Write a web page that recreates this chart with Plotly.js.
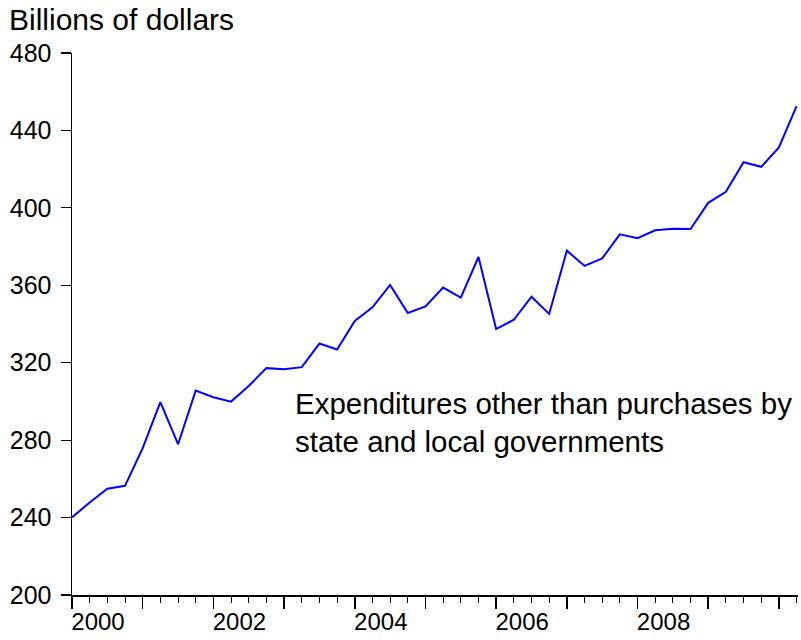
<!DOCTYPE html>
<html>
<head>
<meta charset="utf-8">
<script src="https://cdn.plot.ly/plotly-3.0.1.min.js"></script>
<style>
  html, body { margin: 0; padding: 0; background: #fff; }
  #chart { width: 801px; height: 640px; }
</style>
</head>
<body>
<div id="chart"></div>
<script>
// Quarterly periods, 2000Q1 .. 2010Q2
const quarters = [
  "2000Q1","2000Q2","2000Q3","2000Q4",
  "2001Q1","2001Q2","2001Q3","2001Q4",
  "2002Q1","2002Q2","2002Q3","2002Q4",
  "2003Q1","2003Q2","2003Q3","2003Q4",
  "2004Q1","2004Q2","2004Q3","2004Q4",
  "2005Q1","2005Q2","2005Q3","2005Q4",
  "2006Q1","2006Q2","2006Q3","2006Q4",
  "2007Q1","2007Q2","2007Q3","2007Q4",
  "2008Q1","2008Q2","2008Q3","2008Q4",
  "2009Q1","2009Q2","2009Q3","2009Q4",
  "2010Q1","2010Q2"
];
// Billions of dollars
const expenditures = [
  240.1, 247.8, 254.9, 256.4,
  275.9, 299.6, 277.9, 305.6,
  302.2, 299.9, 308.0, 317.2,
  316.6, 317.7, 329.9, 326.8,
  341.6, 348.6, 360.2, 345.7,
  349.1, 358.8, 353.6, 374.6,
  337.4, 342.2, 354.1, 345.2,
  377.9, 370.0, 373.9, 386.3,
  384.3, 388.4, 389.2, 389.1,
  402.6, 408.3, 423.6, 421.2,
  431.2, 452.5
];
const yearTicks = [2000,2001,2002,2003,2004,2005,2006,2007,2008,2009,2010];
const yearLabels = ["2000","","2002","","2004","","2006","","2008","",""];
const yTicks = [200,240,280,320,360,400,440,480];
const unitLabel = "Billions of dollars";
const seriesLabel = "Expenditures other than purchases by<br>state and local governments";

// convert "YYYYQn" to a decimal year at the start of the quarter
const xVals = quarters.map(q => {
  const y = parseInt(q.slice(0,4), 10);
  const n = parseInt(q.slice(5), 10);
  return y + (n - 1) / 4;
});

const FONT = "'Liberation Sans', Arial, sans-serif";

const trace = {
  x: xVals,
  y: expenditures,
  type: 'scatter',
  mode: 'lines',
  line: { color: '#0000FF', width: 2 },
  hoverinfo: 'skip'
};

const layout = {
  width: 801,
  height: 640,
  margin: { l: 72, r: 3, t: 53, b: 45, pad: 0 },
  paper_bgcolor: '#ffffff',
  plot_bgcolor: '#ffffff',
  showlegend: false,
  font: { family: FONT, color: '#000', size: 24 },
  xaxis: {
    range: [2000, 2010.27],
    tickmode: 'array',
    tickvals: yearTicks,
    ticktext: yearLabels,
    ticks: 'outside',
    ticklen: 12,
    tickwidth: 1.5,
    tickcolor: '#000',
    ticklabelshift: 26,
    ticklabelstandoff: -7,
    tickfont: { family: FONT, size: 24, color: '#000' },
    minor: { tickmode: 'linear', tick0: 2000, dtick: 0.25, ticks: 'outside', ticklen: 6, tickwidth: 1, tickcolor: '#000' },
    showline: true,
    linecolor: '#000',
    linewidth: 1.5,
    showgrid: false,
    zeroline: false,
    fixedrange: true
  },
  yaxis: {
    range: [200, 480],
    tickmode: 'array',
    tickvals: yTicks,
    ticktext: yTicks.map(String),
    ticks: 'outside',
    ticklen: 10,
    tickwidth: 1.2,
    tickcolor: '#000',
    ticklabelstandoff: 4,
    tickfont: { family: FONT, size: 25, color: '#000' },
    showline: true,
    linecolor: '#000',
    linewidth: 1.5,
    showgrid: false,
    zeroline: false,
    fixedrange: true
  },
  annotations: [
    {
      text: unitLabel,
      xref: 'paper', yref: 'paper',
      x: -0.089, y: 1.062,
      xanchor: 'left', yanchor: 'middle',
      showarrow: false,
      font: { family: FONT, size: 30, color: '#000' }
    },
    {
      text: seriesLabel,
      xref: 'paper', yref: 'paper',
      x: 0.305, y: 0.318,
      xanchor: 'left', yanchor: 'middle',
      align: 'left',
      showarrow: false,
      font: { family: FONT, size: 29.5, color: '#000' }
    }
  ]
};

Plotly.newPlot('chart', [trace], layout, { displayModeBar: false, staticPlot: true });
</script>
</body>
</html>
